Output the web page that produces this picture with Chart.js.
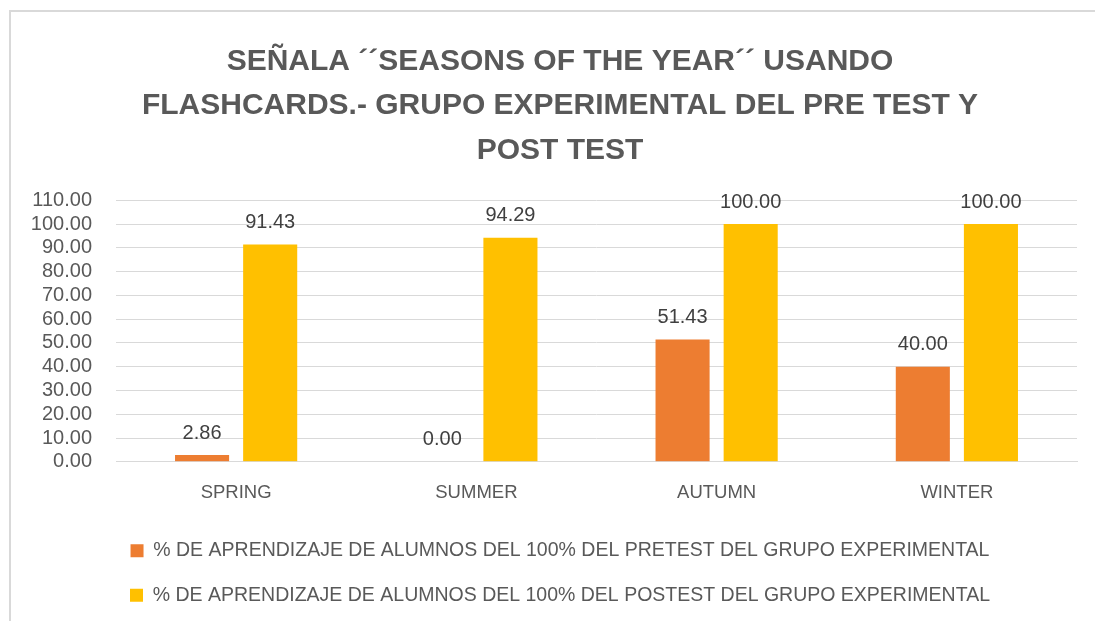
<!DOCTYPE html>
<html>
<head>
<meta charset="utf-8">
<script src="https://cdn.jsdelivr.net/npm/chart.js@4.4.0/dist/chart.umd.min.js"></script>
<style>
    body { margin: 0; background: #fff; overflow: hidden; }
    #box {
        position: absolute; left: 9px; top: 10px;
        width: 1200px; height: 700px;
        border-left: 2px solid #d9d9d9; border-top: 2px solid #d9d9d9;
    }
    #wrap { position: absolute; left: 0; top: 0; width: 1084px; height: 611px; }
</style>
</head>
<body>
<div id="box"><div id="wrap"><canvas id="seasonsChart"></canvas></div></div>
<script>
const seasons = ['SPRING', 'SUMMER', 'AUTUMN', 'WINTER'];
const pretestValues = [2.86, 0.00, 51.43, 40.00];
const posttestValues = [91.43, 94.29, 100.00, 100.00];
const seriesLabels = [
    '% DE APRENDIZAJE DE ALUMNOS DEL 100% DEL PRETEST DEL GRUPO EXPERIMENTAL',
    '% DE APRENDIZAJE DE ALUMNOS DEL 100% DEL POSTEST DEL GRUPO EXPERIMENTAL'
];
const titleLines = [
    'SEÑALA ´´SEASONS OF THE YEAR´´ USANDO',
    'FLASHCARDS.- GRUPO EXPERIMENTAL DEL PRE TEST Y',
    'POST TEST'
];

const textGray = '#595959';
const fontName = '"Liberation Sans", Arial, sans-serif';

// draws the value above each bar (no datalabels plugin here)
const barValueLabels = {
    id: 'barValueLabels',
    afterDatasetsDraw(chart) {
        const ctx = chart.ctx;
        ctx.save();
        ctx.font = '20px ' + fontName;
        ctx.fillStyle = '#404040';
        ctx.textAlign = 'center';
        ctx.textBaseline = 'bottom';
        chart.data.datasets.forEach((ds, i) => {
            chart.getDatasetMeta(i).data.forEach((bar, j) => {
                ctx.fillText(ds.data[j].toFixed(2), bar.x, bar.y - 12);
            });
        });
        ctx.restore();
    }
};

// title and legend sit a bit right of the canvas centre in the original
const nudgeTitleLegend = {
    id: 'nudgeTitleLegend',
    afterLayout(chart) {
        const dx = 13;
        [chart.titleBlock, chart.legend].forEach(b => {
            if (b) { b.left += dx; b.right += dx; }
        });
    }
};

new Chart(document.getElementById('seasonsChart'), {
    type: 'bar',
    data: {
        labels: seasons,
        datasets: [
            {
                label: seriesLabels[0],
                data: pretestValues,
                backgroundColor: '#ed7d31',
                categoryPercentage: 0.567,
                barPercentage: 0.794
            },
            {
                label: seriesLabels[1],
                data: posttestValues,
                backgroundColor: '#ffc000',
                categoryPercentage: 0.567,
                barPercentage: 0.794
            }
        ]
    },
    options: {
        responsive: true,
        maintainAspectRatio: false,
        animation: false,
        layout: { padding: { left: 6, right: 18, top: 28, bottom: 8 } },
        plugins: {
            title: {
                display: true,
                text: titleLines,
                color: textGray,
                font: { family: fontName, size: 30, weight: 'bold', lineHeight: 1.47 },
                padding: { top: 0, bottom: 28 }
            },
            legend: {
                position: 'bottom',
                labels: {
                    color: textGray,
                    font: { family: fontName, size: 19.5 },
                    boxWidth: 13,
                    boxHeight: 13,
                    padding: 25
                }
            },
            tooltip: { enabled: false }
        },
        scales: {
            x: {
                grid: { display: false },
                border: { color: '#d9d9d9' },
                ticks: { color: textGray, font: { family: fontName, size: 18.5 }, padding: 12 }
            },
            y: {
                min: 0,
                max: 110,
                border: { display: false },
                grid: { color: '#d9d9d9', drawTicks: false },
                afterFit: scale => { scale.width = 99; },
                ticks: {
                    stepSize: 10,
                    autoSkip: false,
                    color: textGray,
                    font: { family: fontName, size: 20 },
                    padding: 24,
                    callback: v => v.toFixed(2)
                }
            }
        }
    },
    plugins: [barValueLabels, nudgeTitleLegend]
});
</script>
</body>
</html>
